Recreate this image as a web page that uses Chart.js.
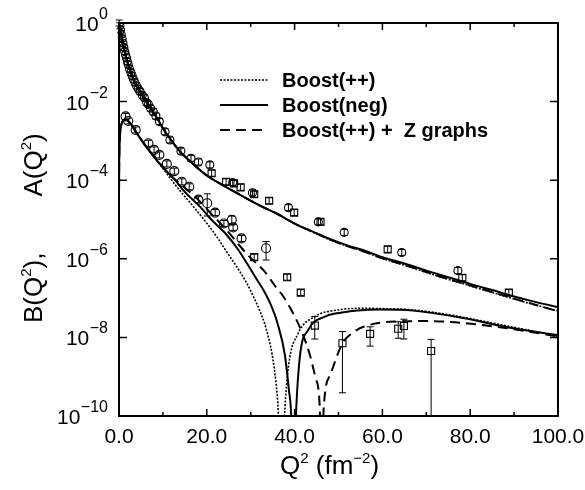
<!DOCTYPE html>
<html>
<head>
<meta charset="UTF-8">
<title>A(Q2), B(Q2)</title>
<script src="https://cdn.jsdelivr.net/npm/chart.js@4.4.1/dist/chart.umd.min.js"></script>
<style>
  body { margin: 0; background: #fff; }
  canvas { display: block; }
</style>
</head>
<body>
<canvas id="grafico" width="585" height="490"></canvas>
<script>
// ---- ejes ----
const ticksX = [0, 20, 40, 60, 80, 100];
const etiquetasX = ['0.0', '20.0', '40.0', '60.0', '80.0', '100.0'];
const ticksY = [1, 1e-2, 1e-4, 1e-6, 1e-8, 1e-10];
const exponentesY = ['0', '\u22122', '\u22124', '\u22126', '\u22128', '\u221210'];

// ---- A(Q^2) teoria ----
const qCurvaA = [0, 0.5, 1, 1.5, 2, 3, 4, 5, 6, 7, 8, 9, 10, 12, 14, 16, 18, 20, 24, 28, 32, 36, 40,
  44, 48, 52, 56, 60, 65, 70, 75, 80, 85, 90, 95, 100];
const aNeg = [1.0, 0.50, 0.26, 0.15, 0.095, 0.045, 0.026, 0.0166, 0.011, 7.4e-3, 5.0e-3, 3.3e-3, 2.1e-3,
  1.0e-3, 5.2e-4, 3.2e-4, 2.0e-4, 1.32e-4, 7.1e-5, 4.0e-5, 2.3e-5, 1.4e-5, 7.9e-6,
  5.0e-6, 3.2e-6, 2.2e-6, 1.6e-6, 1.1e-6, 7.6e-7, 5.0e-7, 3.4e-7, 2.3e-7, 1.6e-7, 1.1e-7, 7.9e-8, 5.9e-8];
const aPlus = [1.0, 0.50, 0.26, 0.15, 0.095, 0.045, 0.026, 0.0166, 0.011, 7.4e-3, 5.0e-3, 3.3e-3, 2.1e-3,
  1.0e-3, 5.2e-4, 3.2e-4, 2.0e-4, 1.32e-4, 7.1e-5, 4.0e-5, 2.3e-5, 1.4e-5, 7.9e-6,
  4.9e-6, 3.05e-6, 2.1e-6, 1.5e-6, 1.02e-6, 6.9e-7, 4.5e-7, 3.0e-7, 2.05e-7, 1.4e-7, 9.5e-8, 6.6e-8, 4.7e-8];
const aZ = [1.0, 0.50, 0.26, 0.15, 0.095, 0.045, 0.026, 0.0166, 0.011, 7.4e-3, 5.0e-3, 3.3e-3, 2.1e-3,
  1.0e-3, 5.2e-4, 3.2e-4, 2.0e-4, 1.32e-4, 7.1e-5, 4.0e-5, 2.3e-5, 1.4e-5, 7.9e-6,
  4.9e-6, 3.1e-6, 2.1e-6, 1.5e-6, 1.03e-6, 7.0e-7, 4.6e-7, 3.05e-7, 2.1e-7, 1.42e-7, 9.7e-8, 6.7e-8, 4.6e-8];

// ---- B(Q^2) teoria (|B|, pasa por cero) ----
const qBPlus = [0.01, 0.05, 0.2, 0.5, 1.0, 1.5, 2.5, 4, 6, 8, 10, 12, 14, 17, 20, 22.3, 25, 26.8, 29, 30.6,
  32, 33.6, 35.3, 36.3, 37.0, 37.7, 38.6, 40.8, 44.6, 49.9, 55.7, 60, 67, 75, 80, 90, 100];
const bPlus = [6e-5, 3e-4, 1.2e-3, 2.5e-3, 3.3e-3, 3.5e-3, 2.9e-3, 1.6e-3, 7.6e-4, 3.8e-4,
  2.0e-4, 1.0e-4, 5.2e-5, 2.1e-5, 8.0e-6, 3.6e-6, 1.26e-6, 6.3e-7, 2.5e-7, 1.1e-7,
  5.0e-8, 1.55e-8, 1.8e-9, 1.2e-10, 1e-12, 1.0e-10, 1.8e-9, 1.26e-8, 3.4e-8, 5.0e-8,
  5.5e-8, 5.4e-8, 5.0e-8, 3.8e-8, 3.0e-8, 1.8e-8, 1.07e-8];
const qBNeg = [0.01, 0.05, 0.2, 0.5, 1.0, 1.5, 2.5, 4, 6, 8, 10, 12.8, 15, 18.5, 21, 24.5, 27, 29.1, 31, 32.9,
  34.5, 36.1, 37.8, 38.7, 39.2, 39.75, 40.3, 41.2, 43.1, 46.9, 49.6, 52.6, 56, 59.5, 67, 78.4, 89.8, 100];
const bNeg = [6e-5, 3e-4, 1.2e-3, 2.5e-3, 3.3e-3, 3.5e-3, 2.9e-3, 1.6e-3, 7.6e-4, 3.9e-4,
  2.1e-4, 1.0e-4, 5.0e-5, 2.1e-5, 1.0e-5, 4.1e-6, 1.8e-6, 7.8e-7, 3.5e-7, 1.6e-7,
  7.1e-8, 2.3e-8, 3.5e-9, 4.6e-10, 1.2e-10, 1e-12, 1.0e-10, 3.2e-9, 1.55e-8, 3.4e-8,
  4.1e-8, 4.6e-8, 5.0e-8, 5.1e-8, 4.8e-8, 3.1e-8, 1.7e-8, 1.15e-8];
const qBZ = [0.01, 0.05, 0.2, 0.5, 1.0, 1.5, 2.5, 4, 6, 8, 10, 12, 14, 18, 21, 24.5, 27, 29.8, 33, 35.9,
  37.2, 39.7, 41.8, 43.5, 44.8, 45.7, 46.15, 46.6, 48.1, 50.9, 53.0, 55.7, 61.7, 70.8, 82.2, 93.6, 100];
const bZ = [6e-5, 3e-4, 1.2e-3, 2.5e-3, 3.3e-3, 3.5e-3, 2.9e-3, 1.6e-3, 7.7e-4, 4.0e-4,
  2.2e-4, 1.25e-4, 8.0e-5, 3.2e-5, 1.4e-5, 5.4e-6, 2.5e-6, 1.1e-6, 5.0e-7, 1.8e-7,
  1.2e-7, 4.0e-8, 1.26e-8, 3.5e-9, 9.1e-10, 1.9e-10, 1e-12, 1.4e-10, 1.1e-9, 7.1e-9, 1.26e-8, 1.86e-8, 2.5e-8,
  2.6e-8, 2.1e-8, 1.4e-8, 1.05e-8];

// ---- datos experimentales ----
const qACirc = [0.05, 0.2, 0.35, 0.5, 0.7, 0.9, 1.1, 1.3, 1.5, 1.7, 1.9, 2.1, 2.4, 2.7, 3.0, 3.3, 3.6, 4.0, 4.4, 4.8,
  5.3, 5.8, 6.3, 6.7, 7.2, 7.8, 8.4, 9.2, 10.5, 11.6, 14.1, 16.4, 18.1, 20.7, 25.9, 30.4, 38.6, 45.4, 51.3, 64.4, 77.2];
const aCirc = [1.0, 0.85, 0.66, 0.52, 0.40, 0.31, 0.24, 0.19, 0.155, 0.13, 0.105, 0.088, 0.068, 0.055, 0.045, 0.037,
  0.031, 0.025, 0.021, 0.018, 0.0145, 0.0125, 0.0095, 0.0085, 0.0068, 0.0055, 0.0043, 0.0031, 0.0017, 1.05e-3,
  5.5e-4, 3.6e-4, 2.9e-4, 2.45e-4, 8.7e-5, 4.8e-5, 2.0e-5, 8.7e-6, 4.7e-6, 1.45e-6, 5.0e-7];
const qASq = [21.1, 24.4, 26.2, 27.7, 30.8, 34.2, 39.9, 45.9, 61.2, 78.2, 88.8];
const aSq = [1.5e-4, 9.1e-5, 8.3e-5, 6.6e-5, 4.4e-5, 3.0e-5, 1.5e-5, 8.7e-6, 1.74e-6, 3.3e-7, 1.38e-7];

const qBCirc = [1.5, 2.1, 3.8, 6.7, 8.0, 9.2, 10.9, 12.6, 14.3, 16.0, 18.1, 20.1, 21.9, 23.9, 25.7, 26.0, 27.9, 33.5];
const bCirc = [4.2e-3, 3.2e-3, 1.9e-3, 8.7e-4, 5.9e-4, 4.4e-4, 2.6e-4, 1.7e-4, 9.1e-5, 6.8e-5, 3.2e-5, 2.6e-5,
  1.5e-5, 7.9e-6, 9.8e-6, 6.3e-6, 3.3e-6, 1.86e-6];
const bCircLo = [null, null, null, null, null, null, null, null, null, null, null, 1.23e-5,
  null, null, 7.2e-6, null, null, 9.3e-7];
const bCircHi = [null, null, null, null, null, null, null, null, null, null, null, 4.5e-5,
  null, null, 1.23e-5, null, null, 2.75e-6];
const qBSq = [30.8, 38.3, 41.4, 44.6, 50.9, 57.2, 63.6, 64.9, 71.1];
const bSq = [1.1e-6, 3.4e-7, 1.38e-7, 2.0e-8, 7.1e-9, 1.23e-8, 1.66e-8, 1.95e-8, 4.5e-9];
const bSqLo = [null, null, null, 9.1e-9, 3.9e-10, 6.0e-9, 9.5e-9, 9.1e-9, 1e-12];
const bSqHi = [null, null, null, 3.4e-8, 1.41e-8, 1.86e-8, 2.5e-8, 2.9e-8, 8.9e-9];

const fuente = '"Liberation Sans", Arial, Helvetica, sans-serif';
const punteado = [2, 1.5];
const rayado = [10, 6];

const leyenda = [
  { texto: 'Boost(++)', dash: punteado, ancho: 1.6 },
  { texto: 'Boost(neg)', dash: [], ancho: 2 },
  { texto: 'Boost(++) +  Z graphs', dash: rayado, ancho: 2 }
];

function puntos(qs, vs) {
  return qs.map((q, i) => ({ x: q, y: vs[i] }));
}

function marcadores(qs, vs, estilo, radio, lo, hi) {
  return {
    data: puntos(qs, vs),
    showLine: false,
    pointStyle: estilo,
    pointRadius: radio,
    pointBorderWidth: 1.1,
    pointBorderColor: '#000',
    pointBackgroundColor: 'rgba(0,0,0,0)',
    errLo: lo || [],
    errHi: hi || [],
    conBarras: true
  };
}

function curva(qs, vs, dash, ancho) {
  return {
    data: puntos(qs, vs),
    showLine: true,
    pointRadius: 0,
    borderColor: '#000',
    borderWidth: ancho,
    borderDash: dash,
    cubicInterpolationMode: 'monotone',
    fill: false
  };
}

// barras de error, marco, marcas, etiquetas y leyenda
const decoracion = {
  id: 'decoracion',
  afterDatasetsDraw(chart) {
    const { ctx, chartArea } = chart;
    const x = chart.scales.x, y = chart.scales.y;
    ctx.save();
    ctx.strokeStyle = '#000';
    ctx.lineWidth = 1;
    ctx.beginPath();
    chart.data.datasets.forEach((ds) => {
      if (!ds.conBarras) return;
      ds.data.forEach((p, i) => {
        const px = x.getPixelForValue(p.x);
        const py = y.getPixelForValue(p.y);
        const lo = ds.errLo[i], hi = ds.errHi[i];
        let y1 = py - 3, y2 = py + 3, tapaAbajo = true;
        if (lo != null && hi != null) {
          y1 = y.getPixelForValue(hi);
          y2 = y.getPixelForValue(lo);
          if (y2 > chartArea.bottom) { y2 = chartArea.bottom; tapaAbajo = false; }
        }
        ctx.moveTo(px, y1); ctx.lineTo(px, y2);
        ctx.moveTo(px - 3.5, y1); ctx.lineTo(px + 3.5, y1);
        if (tapaAbajo) { ctx.moveTo(px - 3.5, y2); ctx.lineTo(px + 3.5, y2); }
      });
    });
    ctx.stroke();
    ctx.restore();
  },
  afterDraw(chart) {
    const { ctx, chartArea } = chart;
    const { left, right, top, bottom } = chartArea;
    const x = chart.scales.x, y = chart.scales.y;
    ctx.save();
    ctx.strokeStyle = '#000';
    ctx.fillStyle = '#000';

    // marco
    ctx.lineWidth = 2;
    ctx.strokeRect(left, top, right - left, bottom - top);

    // marcas hacia dentro
    ctx.beginPath();
    for (let v = 0; v <= 100; v += 10) {
      const px = x.getPixelForValue(v);
      const largo = v % 20 === 0 ? 7 : 4;
      ctx.moveTo(px, bottom); ctx.lineTo(px, bottom - largo);
      ctx.moveTo(px, top); ctx.lineTo(px, top + largo);
    }
    ticksY.forEach((v) => {
      const py = y.getPixelForValue(v);
      ctx.moveTo(left, py); ctx.lineTo(left + 8, py);
      ctx.moveTo(right, py); ctx.lineTo(right - 8, py);
    });
    ctx.lineWidth = 1.5;
    ctx.stroke();

    // etiquetas eje x
    ctx.font = '21px ' + fuente;
    ctx.textAlign = 'center';
    ctx.textBaseline = 'alphabetic';
    ticksX.forEach((v, i) => {
      ctx.fillText(etiquetasX[i], x.getPixelForValue(v), bottom + 27);
    });

    // etiquetas eje y: 10 con exponente
    ticksY.forEach((v, i) => {
      const py = y.getPixelForValue(v);
      ctx.font = '16px ' + fuente;
      ctx.textAlign = 'left';
      const wExp = ctx.measureText(exponentesY[i]).width;
      const xExp = left - 11 - wExp;
      ctx.fillText(exponentesY[i], xExp, py - 4);
      ctx.font = '21px ' + fuente;
      ctx.textAlign = 'right';
      ctx.fillText('10', xExp - 0.5, py + 8);
    });

    // titulos de ejes (texto con superindices)
    const trozos = (lista, x0, y0) => {
      let cx = x0;
      lista.forEach(([t, tam, dy]) => {
        ctx.font = tam + 'px ' + fuente;
        ctx.textAlign = 'left';
        ctx.fillText(t, cx, y0 + dy);
        cx += ctx.measureText(t).width;
      });
      return cx;
    };
    trozos([['Q', 26, 0], ['2', 15, -11], [' (fm', 26, 0], ['\u22122', 15, -11], [')', 26, 0]], 280, 474);

    ctx.save();
    ctx.translate(42, 323);
    ctx.rotate(-Math.PI / 2);
    const fin = trozos([['B(Q', 26, 0], ['2', 15, -11], ['),', 26, 0]], 0, 0);
    trozos([['A(Q', 26, 0], ['2', 15, -11], [')', 26, 0]], fin + 56, 0);
    ctx.restore();

    // leyenda
    leyenda.forEach((item, i) => {
      const ly = 80 + i * 25;
      ctx.beginPath();
      ctx.setLineDash(item.dash);
      ctx.lineWidth = item.ancho;
      ctx.moveTo(220, ly); ctx.lineTo(268, ly);
      ctx.stroke();
      ctx.setLineDash([]);
      ctx.font = 'bold 20px ' + fuente;
      ctx.textAlign = 'left';
      ctx.textBaseline = 'middle';
      ctx.fillText(item.texto, 282, ly + 1);
      ctx.textBaseline = 'alphabetic';
    });
    ctx.restore();
  }
};

const ctx = document.getElementById('grafico').getContext('2d');
new Chart(ctx, {
  type: 'scatter',
  data: {
    datasets: [
      marcadores(qACirc, aCirc, 'circle', 4),
      marcadores(qASq, aSq, 'rect', 5),
      marcadores(qBCirc, bCirc, 'circle', 4.5, bCircLo, bCircHi),
      marcadores(qBSq, bSq, 'rect', 5, bSqLo, bSqHi),
      curva(qCurvaA, aNeg, [], 2),
      curva(qCurvaA, aPlus, punteado, 1.6),
      curva(qCurvaA, aZ, rayado, 2),
      curva(qBNeg, bNeg, [], 2),
      curva(qBPlus, bPlus, punteado, 1.6),
      curva(qBZ, bZ, rayado, 2)
    ]
  },
  options: {
    responsive: false,
    animation: false,
    devicePixelRatio: 1,
    layout: { padding: { left: 119, right: 27, top: 23, bottom: 74 } },
    scales: {
      x: { type: 'linear', min: 0, max: 100, display: false },
      y: { type: 'logarithmic', min: 1e-10, max: 1, display: false }
    },
    plugins: {
      legend: { display: false },
      tooltip: { enabled: false }
    }
  },
  plugins: [decoracion]
});
</script>
</body>
</html>
